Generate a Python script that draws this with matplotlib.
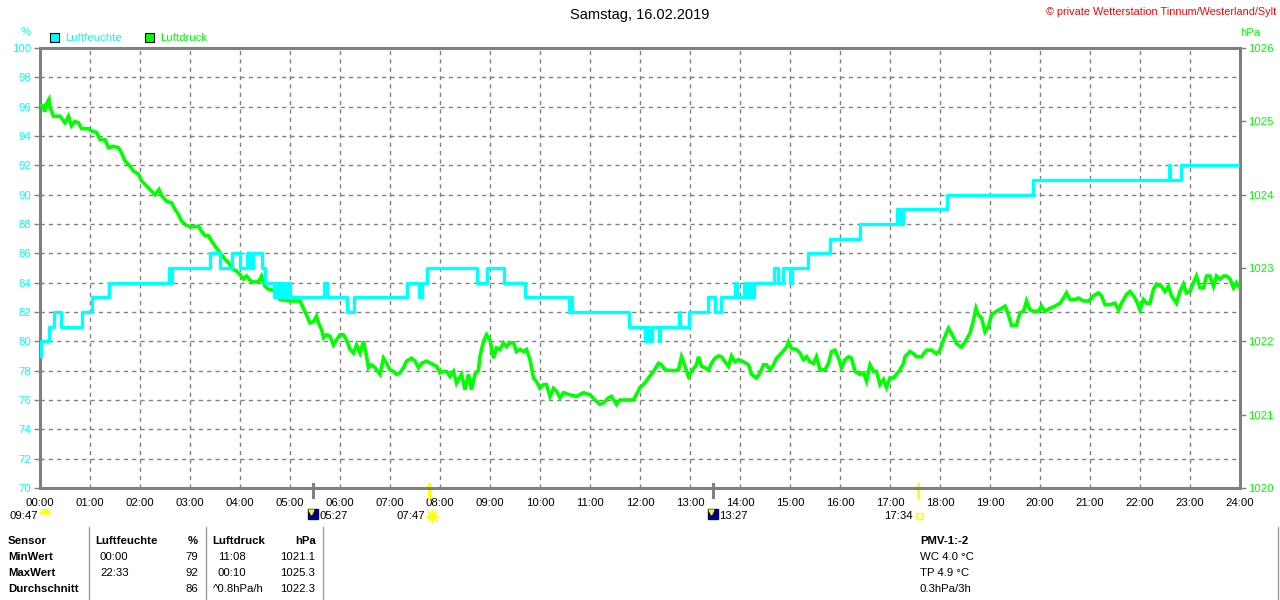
import numpy as np
import matplotlib
matplotlib.use("Agg")
import matplotlib.pyplot as plt
from matplotlib.transforms import offset_copy

plt.rcParams['font.family'] = ['Liberation Sans', 'DejaVu Sans']

# Luftfeuchte (%) als Stufenfunktion: Zeitpunkt (h) -> Wert ab diesem Zeitpunkt
hum_t = [0.00, 0.02, 0.17, 0.28, 0.41, 0.83, 1.03, 1.37, 2.57, 2.60, 2.63, 3.40,
         3.60, 3.83, 4.00, 4.13, 4.19, 4.25, 4.43, 4.50, 4.67, 4.72, 4.77, 4.82,
         4.87, 4.93, 5.00, 5.67, 5.73, 6.13, 6.28, 7.33, 7.57, 7.63, 7.73, 8.73,
         8.93, 9.27, 9.70, 10.57, 10.60, 10.63, 11.77, 12.10, 12.13, 12.17, 12.23,
         12.37, 12.40, 12.77, 12.80, 12.97, 13.36, 13.50, 13.61, 13.89, 13.93,
         14.07, 14.12, 14.17, 14.22, 14.27, 14.68, 14.75, 14.86, 15.00, 15.04,
         15.36, 15.79, 16.39, 17.14, 17.20, 17.25, 18.14, 19.86, 22.57, 22.60,
         22.82, 24.00]
hum_v = [79, 80, 81, 82, 81, 82, 83, 84, 85, 84, 85, 86,
         85, 86, 85, 86, 85, 86, 85, 84, 83, 84, 83, 84,
         83, 84, 83, 84, 83, 82, 83, 84, 83, 84, 85, 84,
         85, 84, 83, 82, 83, 82, 81, 80, 81, 80, 81,
         80, 81, 82, 81, 82, 83, 82, 83, 84, 83,
         84, 83, 84, 83, 84, 85, 84, 85, 84, 85,
         86, 87, 88, 89, 88, 89, 90, 91, 92, 91,
         92, 92]

# Luftdruck (hPa)
p_t = [0.00, 0.07, 0.09, 0.13, 0.18, 0.20, 0.27, 0.40, 0.50, 0.57, 0.63, 0.70,
       0.77, 0.83, 0.97, 1.03, 1.13, 1.20, 1.30, 1.37, 1.47, 1.57, 1.63, 1.70,
       1.80, 1.87, 1.97, 2.03, 2.10, 2.20, 2.30, 2.38, 2.43, 2.53, 2.63, 2.70,
       2.77, 2.83, 2.93, 3.03, 3.17, 3.23, 3.30, 3.37, 3.43, 3.50, 3.60, 3.70,
       3.77, 3.87, 3.93, 4.00, 4.07, 4.13, 4.23, 4.37, 4.43, 4.50, 4.57, 4.70,
       4.80, 5.00, 5.20, 5.27, 5.33, 5.40, 5.47, 5.53, 5.57, 5.63, 5.67, 5.73,
       5.80, 5.87, 5.93, 6.00, 6.07, 6.13, 6.20, 6.27, 6.33, 6.40, 6.47, 6.53,
       6.57, 6.63, 6.70, 6.80, 6.87, 6.93, 7.00, 7.07, 7.13, 7.20, 7.27, 7.33,
       7.43, 7.50, 7.57, 7.63, 7.73, 7.87, 7.93, 8.00, 8.07, 8.13, 8.20, 8.27,
       8.33, 8.43, 8.50, 8.57, 8.63, 8.70, 8.77, 8.80, 8.87, 8.93, 9.00, 9.07,
       9.13, 9.20, 9.27, 9.33, 9.40, 9.47, 9.53, 9.60, 9.67, 9.73, 9.80, 9.87,
       9.93, 10.00, 10.07, 10.13, 10.20, 10.27, 10.33, 10.40, 10.47, 10.60, 10.73,
       10.87, 11.00, 11.10, 11.20, 11.27, 11.37, 11.43, 11.53, 11.60, 11.67, 11.87,
       12.00, 12.07, 12.17, 12.27, 12.37, 12.43, 12.50, 12.67, 12.77, 12.83, 12.90,
       12.97, 13.03, 13.13, 13.17, 13.23, 13.30, 13.37, 13.43, 13.50, 13.57, 13.63,
       13.70, 13.77, 13.83, 13.90, 13.97, 14.07, 14.17, 14.23, 14.33, 14.40, 14.47,
       14.53, 14.60, 14.67, 14.73, 14.83, 14.93, 14.97, 15.03, 15.13, 15.20, 15.27,
       15.33, 15.40, 15.47, 15.53, 15.60, 15.70, 15.77, 15.83, 15.90, 15.97, 16.03,
       16.10, 16.17, 16.23, 16.30, 16.40, 16.47, 16.53, 16.60, 16.67, 16.73, 16.80,
       16.87, 16.93, 17.00, 17.07, 17.13, 17.20, 17.27, 17.30, 17.40, 17.47, 17.53,
       17.63, 17.73, 17.83, 17.93, 18.00, 18.07, 18.17, 18.23, 18.33, 18.43, 18.50,
       18.60, 18.67, 18.72, 18.77, 18.83, 18.90, 18.97, 19.03, 19.13, 19.23, 19.30,
       19.37, 19.43, 19.53, 19.60, 19.67, 19.73, 19.80, 19.87, 19.97, 20.03, 20.10,
       20.20, 20.30, 20.40, 20.47, 20.53, 20.60, 20.70, 20.77, 20.87, 20.97, 21.07,
       21.17, 21.23, 21.30, 21.40, 21.50, 21.57, 21.63, 21.73, 21.80, 21.87, 21.93,
       22.00, 22.07, 22.13, 22.20, 22.27, 22.33, 22.43, 22.50, 22.57, 22.63, 22.73,
       22.80, 22.87, 22.93, 23.00, 23.07, 23.13, 23.20, 23.27, 23.33, 23.40, 23.47,
       23.53, 23.60, 23.67, 23.73, 23.80, 23.87, 23.93, 23.99]
p_v = [1025.21, 1025.21, 1025.13, 1025.24, 1025.30, 1025.19, 1025.07, 1025.07, 1024.98, 1025.07, 1024.94, 1025.00,
       1024.98, 1024.90, 1024.90, 1024.87, 1024.85, 1024.75, 1024.75, 1024.64, 1024.66, 1024.64, 1024.57, 1024.46,
       1024.39, 1024.32, 1024.28, 1024.19, 1024.14, 1024.07, 1024.00, 1024.07, 1023.99, 1023.91, 1023.89, 1023.80,
       1023.73, 1023.64, 1023.58, 1023.56, 1023.57, 1023.50, 1023.44, 1023.44, 1023.37, 1023.30, 1023.21, 1023.12,
       1023.07, 1022.98, 1022.96, 1022.91, 1022.85, 1022.89, 1022.81, 1022.81, 1022.89, 1022.75, 1022.71, 1022.69,
       1022.57, 1022.55, 1022.55, 1022.45, 1022.36, 1022.25, 1022.27, 1022.34, 1022.25, 1022.16, 1022.05, 1022.09,
       1022.07, 1021.95, 1022.02, 1022.09, 1022.09, 1022.02, 1021.89, 1021.84, 1021.95, 1021.84, 1022.00, 1021.80,
       1021.64, 1021.68, 1021.64, 1021.55, 1021.77, 1021.70, 1021.61, 1021.59, 1021.55, 1021.57, 1021.64, 1021.73,
       1021.77, 1021.73, 1021.64, 1021.70, 1021.73, 1021.68, 1021.66, 1021.57, 1021.59, 1021.59, 1021.52, 1021.59,
       1021.43, 1021.55, 1021.34, 1021.55, 1021.34, 1021.55, 1021.61, 1021.80, 1022.00, 1022.09, 1022.02, 1021.77,
       1021.91, 1021.89, 1021.98, 1021.93, 1021.98, 1021.98, 1021.86, 1021.89, 1021.86, 1021.89, 1021.75, 1021.50,
       1021.45, 1021.36, 1021.41, 1021.41, 1021.25, 1021.36, 1021.32, 1021.23, 1021.30, 1021.27, 1021.25,
       1021.30, 1021.27, 1021.20, 1021.14, 1021.16, 1021.23, 1021.25, 1021.14, 1021.20, 1021.20, 1021.20,
       1021.37, 1021.41, 1021.50, 1021.59, 1021.70, 1021.68, 1021.61, 1021.60, 1021.61, 1021.79, 1021.66,
       1021.52, 1021.59, 1021.68, 1021.79, 1021.66, 1021.64, 1021.61, 1021.70, 1021.77, 1021.80, 1021.79,
       1021.72, 1021.66, 1021.80, 1021.72, 1021.75, 1021.72, 1021.68, 1021.55, 1021.50, 1021.57, 1021.68,
       1021.68, 1021.61, 1021.68, 1021.77, 1021.84, 1021.92, 1021.99, 1021.90, 1021.89, 1021.84, 1021.75,
       1021.79, 1021.72, 1021.70, 1021.79, 1021.61, 1021.61, 1021.70, 1021.86, 1021.88, 1021.77, 1021.64,
       1021.75, 1021.79, 1021.77, 1021.59, 1021.55, 1021.57, 1021.46, 1021.68, 1021.59, 1021.59, 1021.41,
       1021.48, 1021.37, 1021.50, 1021.50, 1021.55, 1021.61, 1021.70, 1021.79, 1021.86, 1021.83, 1021.79,
       1021.79, 1021.88, 1021.88, 1021.83, 1021.88, 1022.02, 1022.18, 1022.11, 1021.97, 1021.92, 1021.99,
       1022.11, 1022.29, 1022.45, 1022.36, 1022.32, 1022.13, 1022.20, 1022.36, 1022.41, 1022.45, 1022.48,
       1022.36, 1022.22, 1022.22, 1022.39, 1022.41, 1022.55, 1022.43, 1022.41, 1022.41, 1022.48, 1022.41,
       1022.45, 1022.48, 1022.52, 1022.59, 1022.66, 1022.57, 1022.57, 1022.59, 1022.55, 1022.55, 1022.62,
       1022.66, 1022.62, 1022.50, 1022.50, 1022.52, 1022.43, 1022.52, 1022.64, 1022.68, 1022.62, 1022.55,
       1022.43, 1022.57, 1022.52, 1022.52, 1022.71, 1022.78, 1022.75, 1022.68, 1022.75, 1022.62, 1022.52,
       1022.68, 1022.78, 1022.66, 1022.68, 1022.80, 1022.89, 1022.73, 1022.73, 1022.89, 1022.89, 1022.75,
       1022.89, 1022.85, 1022.89, 1022.89, 1022.85, 1022.73, 1022.80, 1022.73]

x_labels = [f"{h:02d}:00" for h in range(25)]

# Sonnen-/Mondereignisse
moon_times = [5.45, 13.45]
moon_labels = ["05:27", "13:27"]
sun_times = [7.783, 17.567]
sun_labels = ["07:47", "17:34"]

# Tabelle
tab_header = ["Sensor", "Luftfeuchte", "%", "Luftdruck", "hPa"]
tab_rows = ["MinWert", "MaxWert", "Durchschnitt"]
hum_time = ["00:00", "22:33", ""]
hum_val = ["79", "92", "86"]
p_time = ["11:08", "00:10", "^0.8hPa/h"]
p_val = ["1021.1", "1025.3", "1022.3"]
info = ["PMV-1:-2", "WC 4.0 °C", "TP 4.9 °C", "0.3hPa/3h"]

CYAN = '#00ffff'
GREEN = '#00ff00'
GRAY = '#808080'
FS = 8.2

fig = plt.figure(figsize=(12.8, 6), dpi=100)
rect = [40 / 1280, 1 - 488 / 600, 1200 / 1280, 440 / 600]

ax_g = fig.add_axes(rect)
ax_g.set_xlim(0, 24)
ax_g.set_ylim(70, 100)
ax_g.set_xticks(range(25))
ax_g.set_xticklabels(x_labels, fontsize=FS)
ax_g.set_yticks(range(70, 101, 2))
ax_g.tick_params(axis='y', colors=GRAY, labelcolor=CYAN, labelsize=FS, length=4, width=1, pad=2)
ax_g.tick_params(axis='x', length=0, pad=7)
ax_g.grid(True, color=GRAY, linestyle=(0, (3, 3)), linewidth=1)
for s in ax_g.spines.values():
    s.set_color(GRAY)
    s.set_linewidth(2.2)

ax_p = ax_g.twinx()
ax_p.set_ylim(1020, 1026)
ax_p.set_yticks(range(1020, 1027))
ax_p.tick_params(axis='y', colors=GRAY, labelcolor=GREEN, labelsize=FS, length=4, width=1, pad=2)
for s in ax_p.spines.values():
    s.set_visible(False)
ax_p.plot(p_t, p_v, color=GREEN, linewidth=2.6, solid_joinstyle='miter')

ax_h = ax_g.twinx()
ax_h.set_ylim(70, 100)
ax_h.set_yticks([])
for s in ax_h.spines.values():
    s.set_visible(False)
ax_h.plot(hum_t, hum_v, color=CYAN, linewidth=2.4, drawstyle='steps-post')

# Ereignis-Markierungen unter der Zeitachse
xt = ax_g.get_xaxis_transform()
for t in moon_times:
    ax_g.plot([t, t], [0.009, -0.02], transform=xt, color=GRAY, lw=2.2, clip_on=False)
for t in sun_times:
    ax_g.plot([t, t], [0.009, -0.02], transform=xt, color='#ffff00', lw=2.2, clip_on=False)

def off(dx, dy):
    return offset_copy(xt, fig=fig, x=dx, y=dy, units='dots')

LY = -28
for t, lab in zip(moon_times, moon_labels):
    ax_g.plot([t], [0], marker='s', ms=7.5, mfc='#000080', mec='#000080', transform=off(0, LY + 2), clip_on=False)
    ax_g.plot([t], [0], marker='v', ms=3.5, mfc='#ffff00', mec='#ffff00', transform=off(-2, LY + 4), clip_on=False)
    ax_g.text(t, 0, lab, transform=off(7, LY), fontsize=FS, va='center', ha='left')
ax_g.text(sun_times[0], 0, sun_labels[0], transform=off(-4, LY), fontsize=FS, va='center', ha='right')
ax_g.plot([sun_times[0]], [0], marker='o', ms=5, mfc='#ffff00', mec='#ffff00', transform=off(3, LY), clip_on=False)
ax_g.plot([sun_times[0]], [0], marker=(8, 2, 0), ms=9, mec='#ffff00', mew=1, transform=off(3, LY), clip_on=False)
ax_g.text(sun_times[1], 0, sun_labels[1], transform=off(-6, LY), fontsize=FS, va='center', ha='right')
ax_g.plot([sun_times[1]], [0], marker='s', ms=4, mfc='none', mec='#ffff00', mew=1, transform=off(1, LY), clip_on=False)
ax_g.text(0, 0, "09:47", transform=off(-30, LY), fontsize=FS, va='center', ha='left')
ax_g.plot([0], [0], marker='o', ms=8, fillstyle='top', mfc='#ffff00', mfcalt='none', mew=0,
          transform=off(5, LY + 2), clip_on=False)

# Texte im Pixelraster der Abbildung
ov = fig.add_axes([0, 0, 1, 1], zorder=-1)
ov.set_xlim(0, 1280)
ov.set_ylim(600, 0)
ov.axis('off')

ov.text(640, 15, "Samstag, 16.02.2019", ha='center', va='center', fontsize=10.5)
ov.text(1276, 12, "© private Wetterstation Tinnum/Westerland/Sylt", ha='right', va='center',
        fontsize=7.8, color='#ff0000')
ov.text(26, 32, "%", ha='center', va='center', fontsize=FS, color=CYAN)
ov.text(1250, 33, "hPa", ha='center', va='center', fontsize=FS, color=GREEN)
ov.add_patch(plt.Rectangle((50, 33), 9, 9, facecolor=CYAN, edgecolor='black', lw=0.8))
ov.text(65, 38, "Luftfeuchte", va='center', fontsize=FS, color=CYAN)
ov.add_patch(plt.Rectangle((145, 33), 9, 9, facecolor=GREEN, edgecolor='black', lw=0.8))
ov.text(160, 38, "Luftdruck", va='center', fontsize=FS, color=GREEN)

rows_y = [541, 557, 573, 589]
bold = dict(fontsize=FS, fontweight='bold', va='center')
norm = dict(fontsize=FS, va='center')
ov.text(8, rows_y[0], tab_header[0], **bold)
ov.text(95, rows_y[0], tab_header[1], **bold)
ov.text(198, rows_y[0], tab_header[2], ha='right', **bold)
ov.text(212, rows_y[0], tab_header[3], **bold)
ov.text(316, rows_y[0], tab_header[4], ha='right', **bold)
for i, y in enumerate(rows_y[1:]):
    ov.text(8, y, tab_rows[i], **bold)
    ov.text(100, y, hum_time[i], **norm)
    ov.text(198, y, hum_val[i], ha='right', **norm)
    ov.text(218 if i < 2 else 213, y, p_time[i], **norm)
    ov.text(315, y, p_val[i], ha='right', **norm)
for xl in [89, 206, 323, 1278]:
    ov.plot([xl, xl], [527, 600], color='#a0a0a0', lw=1)

ov.text(920, rows_y[0], info[0], **bold)
for y, s in zip(rows_y[1:], info[1:]):
    ov.text(920, y, s, **norm)

fig.savefig("out.png", dpi=100)
